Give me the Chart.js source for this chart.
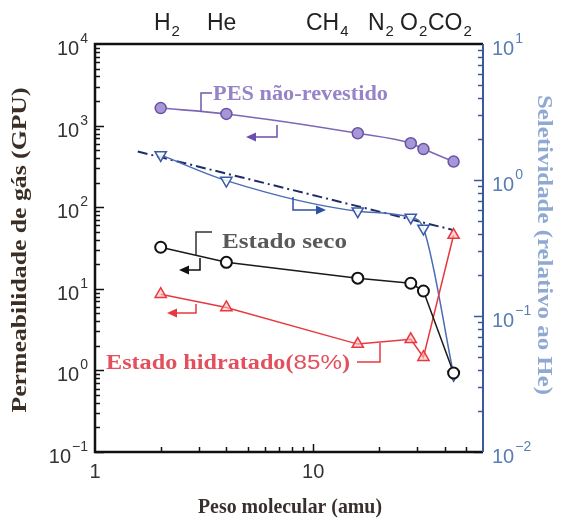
<!DOCTYPE html>
<html>
<head>
<meta charset="utf-8">
<script src="https://cdn.jsdelivr.net/npm/chart.js@4.4.1/dist/chart.umd.min.js"></script>
<style>
  html, body { margin: 0; padding: 0; background: #fff; }
</style>
</head>
<body>
<canvas id="chart" width="569" height="521"></canvas>
<script>
// Data (molecular weight in amu)
const molWeights = [2, 4, 16, 28, 32, 44];
const gasNames = [['H', '2'], ['He', ''], ['CH', '4'], ['N', '2'], ['O', '2'], ['CO', '2']];
const pesUncoated = [1640, 1390, 805, 607, 516, 362];      // GPU
const dryState = [32.3, 21.1, 13.5, 11.7, 9.4, 0.93];       // GPU
const hydrated85 = [8.6, 5.9, 2.1, 2.4, 1.45, 45.6];        // GPU
const selectivity = [1.53, 0.99, 0.59, 0.53, 0.44, 0.037];  // relative to He
const trendMw = [1.57, 43.5];
const trendSel = [1.62, 0.43];
const permTicks = [0.1, 1, 10, 100, 1000, 10000];
const selTicks = [0.01, 0.1, 1, 10];
const mwTicks = [1, 10];

const SERIF = '"Liberation Serif", "DejaVu Serif", serif';
const SANS = '"Liberation Sans", Arial, sans-serif';

const pts = (xs, ys) => xs.map((x, i) => ({ x: x, y: ys[i] }));

// text squeezed/stretched to a given width
function fitText(ctx, text, x, y, width) {
  const w = ctx.measureText(text).width;
  ctx.save();
  ctx.translate(x, y);
  ctx.scale(width / w, 1);
  ctx.fillText(text, 0, 0);
  ctx.restore();
}

function powerLabel(ctx, value, x, y, align, color) {
  const exp = Math.round(Math.log10(value));
  const sup = exp < 0 ? '\u2212' + Math.abs(exp) : String(exp);
  ctx.fillStyle = color;
  ctx.font = '20px ' + SANS;
  const wb = ctx.measureText('10').width;
  ctx.font = '14px ' + SANS;
  const ws = ctx.measureText(sup).width;
  let left = align === 'right' ? x - wb - ws : x;
  ctx.textAlign = 'left';
  ctx.textBaseline = 'alphabetic';
  ctx.font = '20px ' + SANS;
  ctx.fillText('10', left, y + 11);
  ctx.font = '14px ' + SANS;
  ctx.fillText(sup, left + wb + 1, y - 1);
}

function leader(ctx, path, color, head) {
  ctx.save();
  ctx.strokeStyle = color;
  ctx.fillStyle = color;
  ctx.lineWidth = 1.5;
  ctx.beginPath();
  path.forEach((p, i) => i ? ctx.lineTo(p[0], p[1]) : ctx.moveTo(p[0], p[1]));
  ctx.stroke();
  if (head) {
    const [x1, y1] = path[path.length - 2];
    const [x2, y2] = path[path.length - 1];
    const ang = Math.atan2(y2 - y1, x2 - x1);
    ctx.translate(x2, y2);
    ctx.rotate(ang);
    ctx.beginPath();
    ctx.moveTo(4, 0);
    ctx.lineTo(-6, -4.5);
    ctx.lineTo(-6, 4.5);
    ctx.closePath();
    ctx.fill();
  }
  ctx.restore();
}

const framePlugin = {
  id: 'frame',
  beforeDraw(chart) {
    const c = chart.ctx;
    c.save();
    c.fillStyle = '#fff';
    c.fillRect(0, 0, chart.width, chart.height);
    c.restore();
  },
  afterDatasetsDraw(chart) {
    const c = chart.ctx;
    const a = chart.chartArea;
    const sx = chart.scales.x, sy = chart.scales.y, sy2 = chart.scales.y2;
    c.save();

    // left / bottom ticks (inward)
    c.strokeStyle = '#111';
    c.lineWidth = 1.5;
    c.beginPath();
    for (let d = -1; d < 4; d++) {
      for (let m = 1; m < 10; m++) {
        const yy = Math.round(sy.getPixelForValue(m * Math.pow(10, d))) + 0.5;
        const len = m === 1 ? 9 : 5;
        c.moveTo(a.left, yy); c.lineTo(a.left + len, yy);
      }
    }
    for (let d = 0; d < 2; d++) {
      for (let m = 1; m < 10; m++) {
        const v = m * Math.pow(10, d);
        if (v <= 1 || v >= sx.max) continue;
        const xx = Math.round(sx.getPixelForValue(v)) + 0.5;
        const len = m === 1 ? 8 : 5;
        c.moveTo(xx, a.bottom); c.lineTo(xx, a.bottom - len);
      }
    }
    c.stroke();

    // right ticks (blue)
    c.strokeStyle = '#3b5a9c';
    c.beginPath();
    for (let d = -2; d < 1; d++) {
      for (let m = 1; m < 10; m++) {
        const yy = Math.round(sy2.getPixelForValue(m * Math.pow(10, d))) + 0.5;
        const len = m === 1 ? 9 : 5;
        c.moveTo(a.right, yy); c.lineTo(a.right - len, yy);
      }
    }
    c.stroke();

    // frame
    c.strokeStyle = '#111';
    c.lineWidth = 2.5;
    c.beginPath();
    c.moveTo(a.right, a.top); c.lineTo(a.left, a.top); c.lineTo(a.left, a.bottom); c.lineTo(a.right, a.bottom);
    c.stroke();
    c.strokeStyle = '#3b5a9c';
    c.lineWidth = 2;
    c.beginPath();
    c.moveTo(a.right, a.top); c.lineTo(a.right, a.bottom);
    c.stroke();

    // tick labels
    permTicks.forEach(v => powerLabel(c, v, a.left - 8, sy.getPixelForValue(v), 'right', '#333'));
    selTicks.forEach(v => powerLabel(c, v, a.right + 9, sy2.getPixelForValue(v), 'left', '#5a7db6'));
    c.fillStyle = '#333';
    c.font = '20px ' + SANS;
    c.textAlign = 'center';
    c.textBaseline = 'alphabetic';
    mwTicks.forEach(v => c.fillText(String(v), sx.getPixelForValue(v), a.bottom + 26));

    // gas names on top
    const gasX = [154, 207, 306, 368, 400, 428];
    c.fillStyle = '#222';
    c.textAlign = 'left';
    gasNames.forEach((g, i) => {
      c.font = '23px ' + SANS;
      c.fillText(g[0], gasX[i], 30);
      const w = c.measureText(g[0]).width;
      c.font = '15px ' + SANS;
      if (g[1]) c.fillText(g[1], gasX[i] + w + 1, 36);
    });

    // axis titles
    c.font = 'bold 21px ' + SERIF;
    c.fillStyle = '#3b2e25';
    c.save();
    c.translate(26, 250);
    c.rotate(-Math.PI / 2);
    c.textAlign = 'center';
    fitText(c, 'Permeabilidade de gás (GPU)', 0, 0, 325);
    c.restore();

    c.save();
    c.fillStyle = '#8fa9d2';
    c.font = 'bold 21px ' + SERIF;
    c.translate(538, 245);
    c.rotate(Math.PI / 2);
    c.textAlign = 'center';
    fitText(c, 'Seletividade (relativo ao He)', 0, 0, 300);
    c.restore();

    c.fillStyle = '#3a2f2f';
    c.font = 'bold 22px ' + SERIF;
    c.textAlign = 'center';
    fitText(c, 'Peso molecular (amu)', 290, 513, 184);

    // annotations
    c.textAlign = 'left';
    c.font = 'bold 20px ' + SERIF;
    c.fillStyle = '#9683c8';
    fitText(c, 'PES não-revestido', 213, 100, 175);
    leader(c, [[201, 112], [201, 93], [212, 93]], '#6e5aa8', false);
    leader(c, [[277, 125], [277, 137], [250, 137]], '#6a4fb0', true);

    leader(c, [[293, 197], [293, 210], [322, 210]], '#2d4fa6', true);

    c.fillStyle = '#595959';
    fitText(c, 'Estado seco', 222, 248, 125);
    leader(c, [[196, 255], [196, 232], [212, 232]], '#333', false);
    leader(c, [[200, 258], [200, 270], [183, 270]], '#111', true);

    leader(c, [[196, 304], [196, 313], [171, 313]], '#e8383f', true);

    c.fillStyle = '#e34f5c';
    c.font = 'bold 20px ' + SERIF;
    const p1 = 'Estado hidratado(', p3 = ')';
    const w1 = c.measureText(p1).width, w3 = c.measureText(p3).width;
    c.font = '20px ' + SANS;
    const w2 = c.measureText('85%').width;
    const k = 244 / (w1 + w2 + w3);
    c.save();
    c.translate(106, 369);
    c.scale(k, 1);
    c.font = 'bold 20px ' + SERIF;
    c.fillText(p1, 0, 0);
    c.font = '20px ' + SANS;
    c.fillText('85%', w1, 0);
    c.font = 'bold 20px ' + SERIF;
    c.fillText(p3, w1 + w2, 0);
    c.restore();
    leader(c, [[357, 362], [380, 362], [380, 343]], '#e8383f', false);

    c.restore();
  }
};

new Chart(document.getElementById('chart'), {
  type: 'line',
  data: {
    datasets: [
      {
        label: 'PES não-revestido',
        data: pts(molWeights, pesUncoated),
        yAxisID: 'y',
        borderColor: '#7e67b6',
        borderWidth: 1.6,
        cubicInterpolationMode: 'monotone',
        pointStyle: 'circle',
        pointRadius: 5.5,
        pointBackgroundColor: '#a897d6',
        pointBorderColor: '#6a52a6',
        pointBorderWidth: 1.5
      },
      {
        label: 'Estado seco',
        data: pts(molWeights, dryState),
        yAxisID: 'y',
        borderColor: '#1a1a1a',
        borderWidth: 1.5,
        tension: 0,
        pointStyle: 'circle',
        pointRadius: 5.5,
        pointBackgroundColor: '#fff',
        pointBorderColor: '#111',
        pointBorderWidth: 2
      },
      {
        label: 'Estado hidratado (85%)',
        data: pts(molWeights, hydrated85),
        yAxisID: 'y',
        borderColor: '#e8383f',
        borderWidth: 1.5,
        tension: 0,
        pointStyle: 'triangle',
        pointRadius: 6.5,
        pointBackgroundColor: 'rgba(255,190,190,0.6)',
        pointBorderColor: '#e8383f',
        pointBorderWidth: 1.5
      },
      {
        label: 'Seletividade',
        data: pts(molWeights, selectivity),
        yAxisID: 'y2',
        borderColor: '#4a6cb4',
        borderWidth: 1.5,
        cubicInterpolationMode: 'monotone',
        pointStyle: 'triangle',
        pointRotation: 180,
        pointRadius: 6.5,
        pointBackgroundColor: 'rgba(255,255,255,0.85)',
        pointBorderColor: '#3b5aa6',
        pointBorderWidth: 1.5
      },
      {
        label: 'Tendência',
        data: pts(trendMw, trendSel),
        yAxisID: 'y2',
        borderColor: '#1f2d66',
        borderWidth: 2,
        borderDash: [10, 4, 2, 4],
        pointRadius: 0
      }
    ]
  },
  options: {
    responsive: false,
    animation: false,
    devicePixelRatio: 1,
    layout: { padding: { left: 95, top: 44, right: 86, bottom: 69 } },
    plugins: { legend: { display: false }, tooltip: { enabled: false } },
    scales: {
      x: { type: 'logarithmic', min: 1, max: 60, display: false },
      y: { type: 'logarithmic', min: 0.1, max: 10000, display: false, position: 'left' },
      y2: { type: 'logarithmic', min: 0.01, max: 10, display: false, position: 'right' }
    }
  },
  plugins: [framePlugin]
});
</script>
</body>
</html>
